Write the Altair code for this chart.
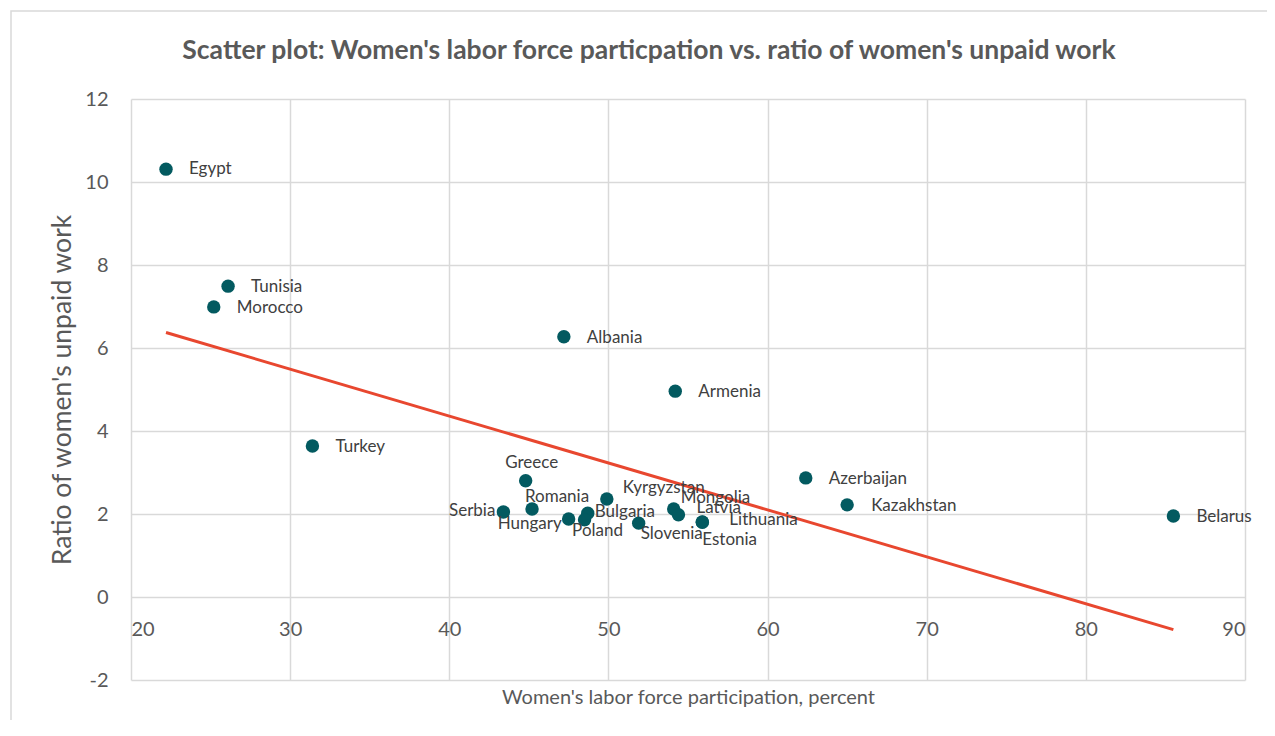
import altair as alt
import pandas as pd

# ---- data ----
countries = ["Egypt", "Tunisia", "Morocco", "Albania", "Armenia", "Turkey",
             "Greece", "Azerbaijan", "Kazakhstan", "Belarus", "Serbia",
             "Romania", "Hungary", "Bulgaria", "Poland", "Kyrgyzstan",
             "Slovenia", "Mongolia", "Latvia", "Lithuania", "Estonia"]
participation = [22.2, 26.1, 25.2, 47.2, 54.2, 31.4,
                 44.8, 62.4, 65.0, 85.5, 43.4,
                 45.2, 47.5, 48.7, 48.5, 49.9,
                 51.9, 54.1, 54.4, 55.9, 55.9]
unpaid_ratio = [10.31, 7.49, 6.99, 6.27, 4.96, 3.64,
                2.80, 2.87, 2.22, 1.95, 2.05,
                2.12, 1.88, 2.02, 1.86, 2.36,
                1.78, 2.12, 1.98, 1.81, 1.80]

# label placement (as in the reference, pixel offsets from the marker)
label_anchor = ["start", "start", "start", "start", "start", "start",
                "middle", "start", "start", "start", "end",
                "middle", "middle", "start", "middle", "start",
                "start", "start", "start", "start", "start"]
label_dx = [23, 23, 23, 23, 23, 23,
            6, 23, 24, 23, -8,
            25, -39, 7, 13, 16,
            2, 7, 18, 27, 0]
label_dy = [0, 1, 1, 1, 1, 1,
            -18, 1, 1, 1, -1,
            -12, 5, -1, 11, -11,
            11, -11, -7, -2, 18]

x_ticks = [20, 30, 40, 50, 60, 70, 80, 90]
y_ticks = [-2, 0, 2, 4, 6, 8, 10, 12]

W, H = 1114, 581
X_DOM = [20, 90]
Y_DOM = [-2, 12]

df = pd.DataFrame({
    "country": countries,
    "participation": participation,
    "unpaid_ratio": unpaid_ratio,
    "anchor": label_anchor,
    "ldx": label_dx,
    "ldy": label_dy,
})

FONT = "Lato"
GRID = "#d9d9d9"
TXT = "#595959"

xs = alt.Scale(domain=X_DOM, nice=False, zero=False)
ys = alt.Scale(domain=Y_DOM, nice=False, zero=False)

x_axis = alt.Axis(values=x_ticks, title="Women's labor force participation, percent",
                  offset=-83, labelPadding=22, labelFontSize=20, labelFont=FONT,
                  labelColor=TXT, domain=False, ticks=False, grid=True,
                  gridColor=GRID, gridWidth=1.5, titleFont=FONT, titleFontSize=20,
                  titleFontWeight="normal", titleColor=TXT, titleY=100,
                  titleBaseline="middle", labelExpr="datum.value + ''")
y_axis = alt.Axis(values=y_ticks, title="Ratio of women's unpaid work",
                  labelPadding=23, labelFontSize=20, labelFont=FONT, labelColor=TXT,
                  domain=False, ticks=False, grid=True, gridColor=GRID, gridWidth=1.5,
                  titleFont=FONT, titleFontSize=26.5, titleFontWeight="normal",
                  titleColor=TXT, titleX=-69, titleY=H / 2, titleAlign="center",
                  titleBaseline="middle", titleAngle=270,
                  labelExpr="datum.value + ''")

base = alt.Chart(df)

points = base.mark_circle(size=180, opacity=1, color="#035A60").encode(
    x=alt.X("participation:Q", scale=xs, axis=x_axis),
    y=alt.Y("unpaid_ratio:Q", scale=ys, axis=y_axis),
)

trend = base.transform_regression("participation", "unpaid_ratio").mark_line(
    color="#E8472F", strokeWidth=3
).encode(
    x=alt.X("participation:Q", scale=xs),
    y=alt.Y("unpaid_ratio:Q", scale=ys),
)

def labels(anchor, align):
    return base.transform_filter(alt.datum.anchor == anchor).transform_calculate(
        lx=f"datum.participation + datum.ldx * {(X_DOM[1]-X_DOM[0]) / W}",
        ly=f"datum.unpaid_ratio - datum.ldy * {(Y_DOM[1]-Y_DOM[0]) / H}",
    ).mark_text(align=align, baseline="middle", font=FONT, fontSize=17,
                color="#404040").encode(
        x=alt.X("lx:Q", scale=xs),
        y=alt.Y("ly:Q", scale=ys),
        text="country:N",
    )

border = base.mark_rect(filled=False, stroke=GRID, strokeWidth=1.5).encode(
    x=alt.value(-120), x2=alt.value(1300), y=alt.value(-88), y2=alt.value(800)
).transform_filter(alt.datum.country == "Egypt")

chart = alt.layer(
    border, trend, points,
    labels("start", "left"), labels("middle", "center"), labels("end", "right"),
).properties(
    width=W, height=H,
    title=alt.TitleParams(
        "Scatter plot: Women's labor force particpation vs. ratio of women's unpaid work",
        font=FONT, fontSize=26.5, fontWeight="bold", color=TXT, anchor="middle",
        frame="group", dx=-39, offset=0, dy=54,
    ),
    autosize=alt.AutoSizeParams(type="none"),
    padding={"left": 123, "top": 91, "right": 22, "bottom": 40},
).configure_view(stroke=None)

chart.save("out.html", embed_options={"renderer": "svg", "actions": False})
